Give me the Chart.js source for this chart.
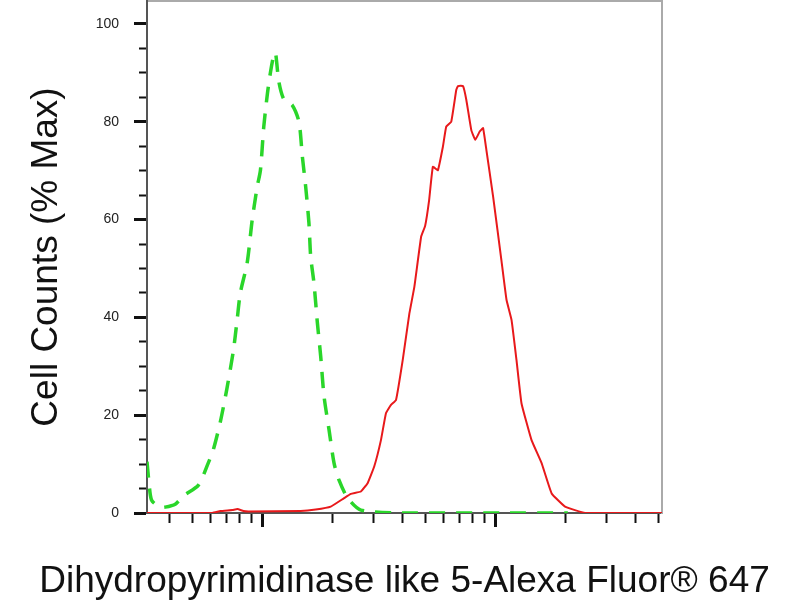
<!DOCTYPE html>
<html>
<head>
<meta charset="utf-8">
<script src="https://cdn.jsdelivr.net/npm/chart.js@4/dist/chart.umd.min.js"></script>
<style>html,body{margin:0;padding:0;background:#fff}canvas{display:block}</style>
</head>
<body>
<canvas id="c" width="800" height="600"></canvas>
<script>
// Red (stained) histogram: fluorescence channel (log) vs % max
const redX = [32.0, 61.0, 66.1, 74.4, 78.2, 83.0, 87.2, 146.1, 169.6, 196.8, 223.9, 240.1, 265.1, 283.3, 302.4, 323.2, 339.6, 356.9, 375.1, 400.9, 428.1, 449.8, 480.8, 500.1, 520.4, 539.9, 567.4, 596.2, 616.2, 647.4, 680.4, 692, 727.2, 751.4, 789.5, 821.5, 857.6, 886.9, 916.6, 979.5, 1063, 1118, 1175, 1234, 1297, 1432, 1582, 1747, 1994, 2431, 5200];
const redY = [0, 0, 0.4, 0.6, 0.8, 0.4, 0.3, 0.4, 0.7, 1.3, 3.0, 3.9, 4.4, 6.1, 9.5, 14.9, 20.4, 22.1, 23.1, 31.3, 40.8, 46.3, 56.5, 58.7, 64, 70.8, 70.1, 74.9, 79, 80, 86.5, 87.3, 87.3, 84.5, 78.3, 76.3, 78, 78.7, 74.2, 64.7, 51.7, 43.6, 39.5, 31.3, 22.4, 14.9, 10.2, 4.0, 1.3, 0, 0];
// Green (isotype control) histogram
const greenX = [32.0, 32.6, 33.5, 36.4, 38.3, 42.3, 45.9, 53.2, 58.6, 61.6, 66.1, 70.6, 75.2, 78.0, 80.5, 86.1, 90.5, 95.1, 98.2, 101.5, 105.3, 108.5, 112.1, 114.0, 117.8, 123.8, 134.5, 143.7, 148.6, 153.6, 158.6, 161.4, 166.7, 172.4, 178.2, 184.1, 193.5, 203.3, 213.6, 232.3, 265.1, 394.2, 1063, 2050];
const greenY = [10.5, 6.5, 2.6, 1.2, 1.2, 1.8, 3.5, 5.7, 10.2, 12.9, 18.7, 25.6, 33.3, 39.5, 45, 51.1, 59.9, 66.7, 70.1, 79, 85.9, 90.2, 93.7, 94.1, 88.2, 84.6, 83.4, 80, 72.9, 66.7, 59.3, 52.4, 47, 38.9, 32, 23.9, 17, 10.2, 6.7, 3.1, 0.6, 0, 0, 0];

const xTickValues = [40, 50, 60, 70, 80, 90, 100, 200, 300, 400, 500, 600, 700, 800, 900, 1000, 2000, 3000, 4000, 5000];
const xMajorTicks = [100, 1000];
const yTickValues = [0, 5, 10, 15, 20, 25, 30, 35, 40, 45, 50, 55, 60, 65, 70, 75, 80, 85, 90, 95, 100];
const yLabelStep = 20;

const X_MIN = 32, X_MAX = 5200, Y_MIN = 0, Y_MAX = 104.7;
const FONT = "'Liberation Sans', Arial, sans-serif";

const toPts = (xs, ys) => xs.map((x, i) => ({x: x, y: ys[i]}));
const isXMajor = ctx => ctx.tick && xMajorTicks.includes(ctx.tick.value);
const isYMajor = ctx => ctx.tick && ctx.tick.value % yLabelStep === 0;

new Chart(document.getElementById('c'), {
  type: 'line',
  data: {
    datasets: [
      {
        label: 'Stained',
        data: toPts(redX, redY),
        borderColor: '#e8191b',
        borderWidth: 2,
        pointRadius: 0,
        tension: 0.1,
        fill: false,
        xAxisID: 'x', yAxisID: 'y'
      },
      {
        label: 'Control',
        data: toPts(greenX, greenY),
        borderColor: '#2ad62a',
        borderWidth: 3.5,
        borderDash: [16, 11],
        pointRadius: 0,
        tension: 0.25,
        fill: false,
        xAxisID: 'x', yAxisID: 'y'
      }
    ]
  },
  options: {
    responsive: false,
    animation: false,
    layout: {padding: {left: 9, right: 0, top: 0, bottom: 0}},
    plugins: {
      legend: {display: false},
      tooltip: {enabled: false},
      title: {
        display: true,
        position: 'bottom',
        text: 'Dihydropyrimidinase like 5-Alexa Fluor® 647',
        font: {family: FONT, size: 37, weight: 'normal', lineHeight: 1.0},
        color: '#111',
        padding: {top: 0, bottom: 0}
      }
    },
    scales: {
      x: {
        type: 'logarithmic',
        position: 'bottom',
        min: X_MIN, max: X_MAX,
        afterBuildTicks: s => { s.ticks = xTickValues.map(v => ({value: v, major: xMajorTicks.includes(v)})); },
        afterFit: s => { s.height = 50; s.paddingLeft = 0; s.paddingRight = 0; },
        ticks: {display: false},
        grid: {
          drawOnChartArea: false,
          drawTicks: true,
          tickLength: 14,
          tickColor: '#111',
          tickWidth: ctx => isXMajor(ctx) ? 3 : 2,
          tickBorderDash: ctx => isXMajor(ctx) ? [] : [9, 30]
        },
        border: {display: true, color: '#555', width: 2}
      },
      x2: {
        type: 'logarithmic',
        position: 'top',
        min: X_MIN, max: X_MAX,
        afterFit: s => { s.height = 1; s.paddingLeft = 0; s.paddingRight = 0; },
        ticks: {display: false},
        grid: {drawOnChartArea: false, drawTicks: false},
        border: {display: true, color: '#aaa', width: 2}
      },
      y: {
        type: 'linear',
        position: 'left',
        min: Y_MIN, max: Y_MAX,
        afterBuildTicks: s => { s.ticks = yTickValues.map(v => ({value: v})); },
        afterFit: s => { s.width = 138; s.paddingTop = 0; s.paddingBottom = 0; },
        ticks: {
          padding: 15,
          color: '#222',
          font: {family: FONT, size: 14},
          callback: v => (v % yLabelStep === 0 ? String(v) : '')
        },
        grid: {
          drawOnChartArea: false,
          drawTicks: true,
          tickLength: 13,
          tickColor: '#111',
          tickWidth: ctx => isYMajor(ctx) ? 3 : 2,
          tickBorderDash: ctx => isYMajor(ctx) ? [] : [0, 5, 8, 30]
        },
        border: {display: true, color: '#555', width: 2},
        title: {
          display: true,
          text: 'Cell Counts (% Max)',
          font: {family: FONT, size: 37},
          color: '#111',
          padding: {top: 16, bottom: 0}
        }
      },
      y2: {
        type: 'linear',
        position: 'right',
        min: Y_MIN, max: Y_MAX,
        afterFit: s => { s.width = 138; s.paddingTop = 0; s.paddingBottom = 0; },
        ticks: {display: false},
        grid: {drawOnChartArea: false, drawTicks: false},
        border: {display: true, color: '#aaa', width: 2}
      }
    }
  }
});
</script>
</body>
</html>
